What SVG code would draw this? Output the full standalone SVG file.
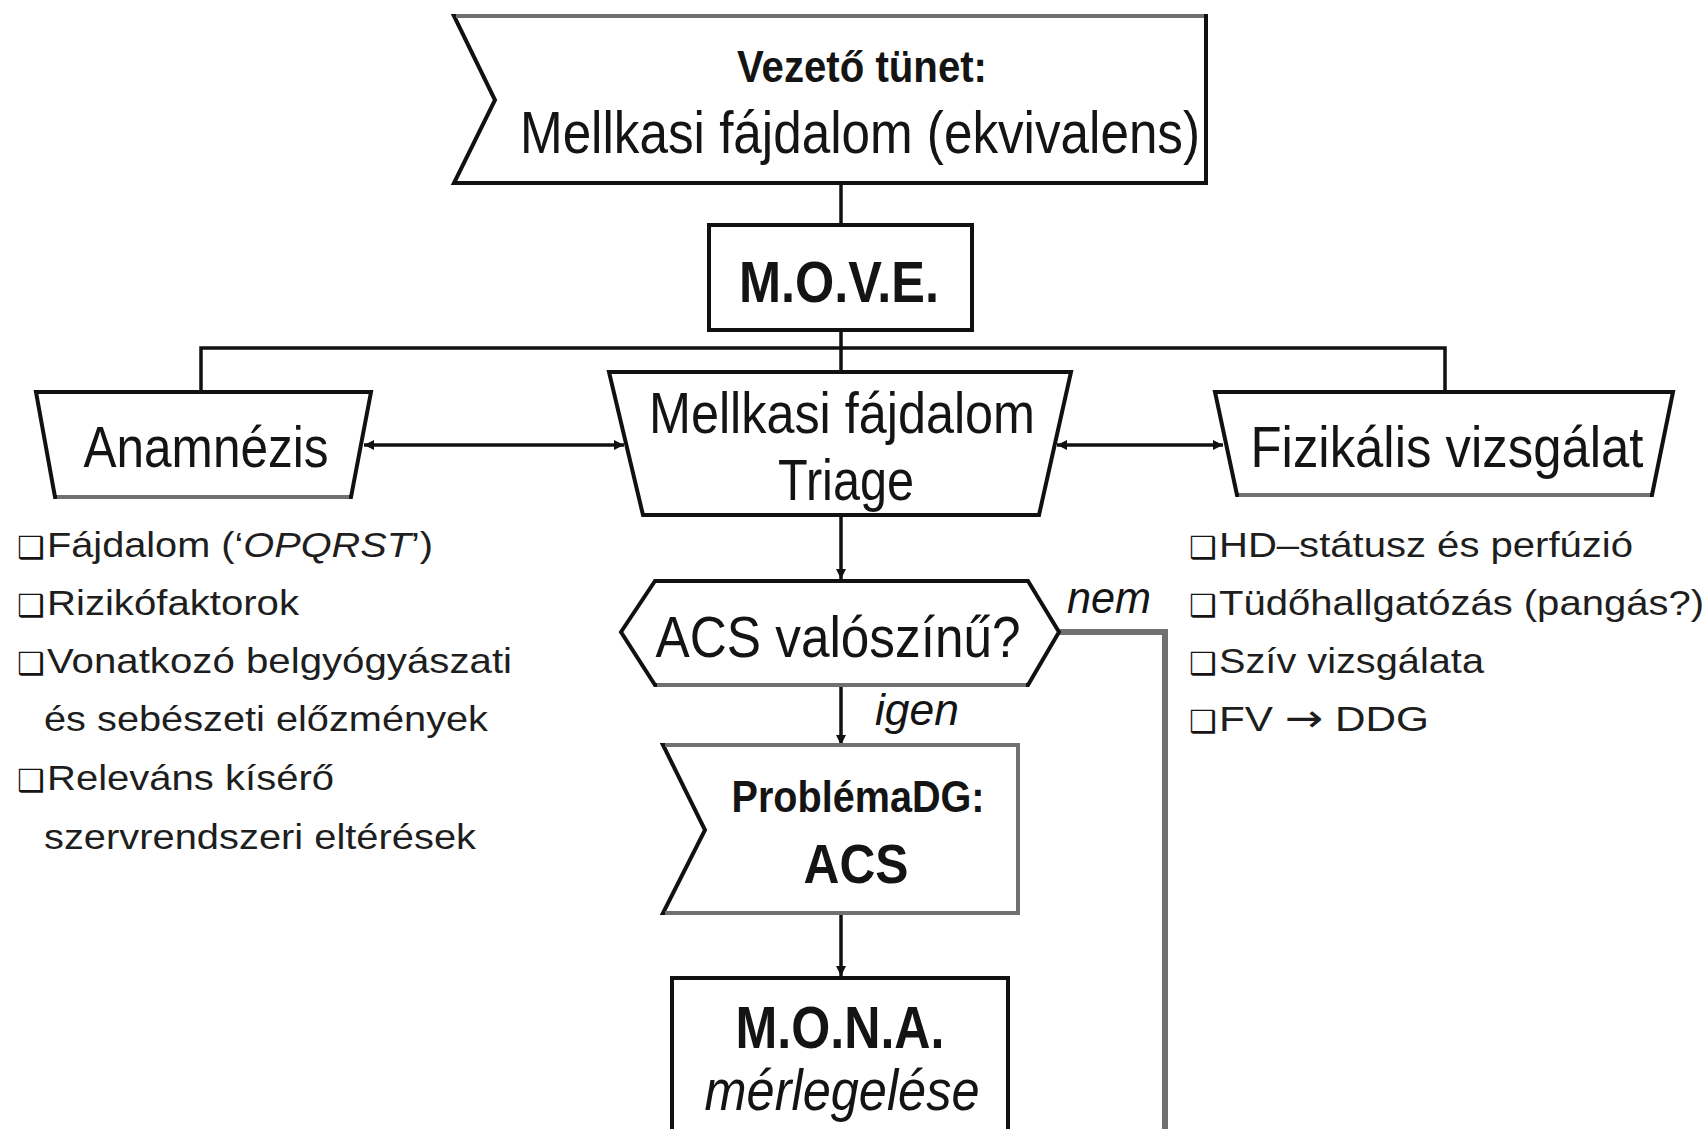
<svg xmlns="http://www.w3.org/2000/svg" width="1707" height="1129" viewBox="0 0 1707 1129">
  <defs>
    <marker id="head" viewBox="0 0 10 10" refX="10" refY="5" markerWidth="10" markerHeight="10" markerUnits="userSpaceOnUse" orient="auto-start-reverse">
      <path d="M0,0 L10,5 L0,10 z" fill="#111"/>
    </marker>
  </defs>
  <style>
    .node { fill: #fff; stroke: #111; stroke-width: 4; stroke-linejoin: miter; }
    .shade { fill: none; stroke: #707070; stroke-width: 4; }
    .ln { fill: none; stroke: #111; stroke-width: 3.5; }
    .gray { fill: none; stroke: #707070; stroke-width: 6; }
    .t { font-family: "Liberation Sans", Arial, sans-serif; fill: #141414; }
    .mid { text-anchor: middle; }
    .b { font-weight: bold; }
    .i { font-style: italic; }
    .bul { font-family: "DejaVu Sans", sans-serif; font-size: 31px; fill: #141414; }
    .lst { font-family: "Liberation Sans", Arial, sans-serif; font-size: 35px; fill: #1e1e1e; }
    .arr { font-family: "DejaVu Sans", sans-serif; font-size: 38px; }
  </style>
  <rect width="1707" height="1129" fill="#fff"/>

  <!-- connectors -->
  <g id="connectors">
    <line class="ln" x1="841" y1="183" x2="841" y2="225"/>
    <line class="ln" x1="841" y1="330" x2="841" y2="372"/>
    <polyline class="ln" points="201,392 201,348 1445,348 1445,392"/>
    <line class="ln" x1="364" y1="445" x2="624" y2="445" marker-start="url(#head)" marker-end="url(#head)"/>
    <line class="ln" x1="1057" y1="445" x2="1223" y2="445" marker-start="url(#head)" marker-end="url(#head)"/>
    <line class="ln" x1="841" y1="515" x2="841" y2="579" marker-end="url(#head)"/>
    <line class="ln" x1="841" y1="685" x2="841" y2="745" marker-end="url(#head)"/>
    <line class="ln" x1="841" y1="913" x2="841" y2="976" marker-end="url(#head)"/>
    <polyline class="gray" points="1059,632 1165,632 1165,1129"/>
    <text class="t i" x="1067" y="613" font-size="44" textLength="84" lengthAdjust="spacingAndGlyphs">nem</text>
    <text class="t i" x="875" y="725" font-size="44" textLength="84" lengthAdjust="spacingAndGlyphs">igen</text>
  </g>

  <!-- leading symptom -->
  <g id="symptom">
    <polygon class="node" points="454,16 1206,16 1206,183 454,183 495,100"/>
    <line class="shade" x1="456" y1="16" x2="1204" y2="16"/>
    <text class="t b mid" x="862" y="82" font-size="44" textLength="250" lengthAdjust="spacingAndGlyphs">Vezető tünet:</text>
    <text class="t mid" x="860" y="153" font-size="60" textLength="680" lengthAdjust="spacingAndGlyphs">Mellkasi fájdalom (ekvivalens)</text>
  </g>

  <!-- MOVE -->
  <g id="move">
    <rect class="node" x="709" y="225" width="263" height="105"/>
    <text class="t b mid" x="839" y="302" font-size="58" textLength="200" lengthAdjust="spacingAndGlyphs">M.O.V.E.</text>
  </g>

  <!-- history -->
  <g id="anamnezis">
    <polygon class="node" points="36,392 371,392 351,497 55,497"/>
    <line class="shade" x1="57" y1="497" x2="349" y2="497"/>
    <text class="t mid" x="206" y="467" font-size="58" textLength="245" lengthAdjust="spacingAndGlyphs">Anamnézis</text>
  </g>

  <!-- triage -->
  <g id="triage">
    <polygon class="node" points="609,372 1071,372 1039,515 643,515"/>
    <text class="t mid" x="842" y="433" font-size="58" textLength="386" lengthAdjust="spacingAndGlyphs">Mellkasi fájdalom</text>
    <text class="t mid" x="846" y="500" font-size="58" textLength="136" lengthAdjust="spacingAndGlyphs">Triage</text>
  </g>

  <!-- physical examination -->
  <g id="fizikalis">
    <polygon class="node" points="1215,392 1673,392 1652,495 1237,495"/>
    <line class="shade" x1="1239" y1="495" x2="1650" y2="495"/>
    <text class="t mid" x="1447" y="467" font-size="58" textLength="393" lengthAdjust="spacingAndGlyphs">Fizikális vizsgálat</text>
  </g>

  <!-- decision -->
  <g id="acs-decision">
    <polygon class="node" points="621,632 655,581 1028,581 1059,632 1028,685 655,685"/>
    <line class="shade" x1="657" y1="685" x2="1026" y2="685"/>
    <text class="t mid" x="838" y="657" font-size="58" textLength="365" lengthAdjust="spacingAndGlyphs">ACS valószínű?</text>
  </g>

  <!-- working diagnosis -->
  <g id="problema-dg">
    <polygon class="node" points="663,745 1018,745 1018,913 663,913 705,830"/>
    <polyline class="shade" points="665,745 1018,745 1018,913 665,913"/>
    <text class="t b mid" x="858" y="812" font-size="44" textLength="253" lengthAdjust="spacingAndGlyphs">ProblémaDG:</text>
    <text class="t b mid" x="856" y="883" font-size="56" textLength="105" lengthAdjust="spacingAndGlyphs">ACS</text>
  </g>

  <!-- MONA -->
  <g id="mona">
    <rect class="node" x="672" y="978" width="336" height="200"/>
    <text class="t b mid" x="840" y="1048" font-size="60" textLength="209" lengthAdjust="spacingAndGlyphs">M.O.N.A.</text>
    <text class="t i mid" x="842" y="1110" font-size="58" textLength="275" lengthAdjust="spacingAndGlyphs">mérlegelése</text>
  </g>

  <!-- history checklist -->
  <g id="anamnezis-list">
    <text class="bul" x="17" y="558">❑</text>
    <text class="lst" x="47" y="557" textLength="386" lengthAdjust="spacingAndGlyphs">Fájdalom (‘<tspan font-style="italic">OPQRST</tspan>’)</text>
    <text class="bul" x="17" y="616">❑</text>
    <text class="lst" x="47" y="615" textLength="252" lengthAdjust="spacingAndGlyphs">Rizikófaktorok</text>
    <text class="bul" x="17" y="674">❑</text>
    <text class="lst" x="47" y="673" textLength="465" lengthAdjust="spacingAndGlyphs">Vonatkozó belgyógyászati</text>
    <text class="lst" x="44" y="731" textLength="444" lengthAdjust="spacingAndGlyphs">és sebészeti előzmények</text>
    <text class="bul" x="17" y="791">❑</text>
    <text class="lst" x="47" y="790" textLength="287" lengthAdjust="spacingAndGlyphs">Releváns kísérő</text>
    <text class="lst" x="44" y="849" textLength="432" lengthAdjust="spacingAndGlyphs">szervrendszeri eltérések</text>
  </g>

  <!-- examination checklist -->
  <g id="fizikalis-list">
    <text class="bul" x="1189" y="558">❑</text>
    <text class="lst" x="1219" y="557" textLength="414" lengthAdjust="spacingAndGlyphs">HD–státusz és perfúzió</text>
    <text class="bul" x="1189" y="616">❑</text>
    <text class="lst" x="1219" y="615" textLength="485" lengthAdjust="spacingAndGlyphs">Tüdőhallgatózás (pangás?)</text>
    <text class="bul" x="1189" y="674">❑</text>
    <text class="lst" x="1219" y="673" textLength="265" lengthAdjust="spacingAndGlyphs">Szív vizsgálata</text>
    <text class="bul" x="1189" y="732">❑</text>
    <text class="lst" x="1219" y="731" textLength="210" lengthAdjust="spacingAndGlyphs">FV <tspan class="arr">→</tspan> DDG</text>
  </g>
</svg>
